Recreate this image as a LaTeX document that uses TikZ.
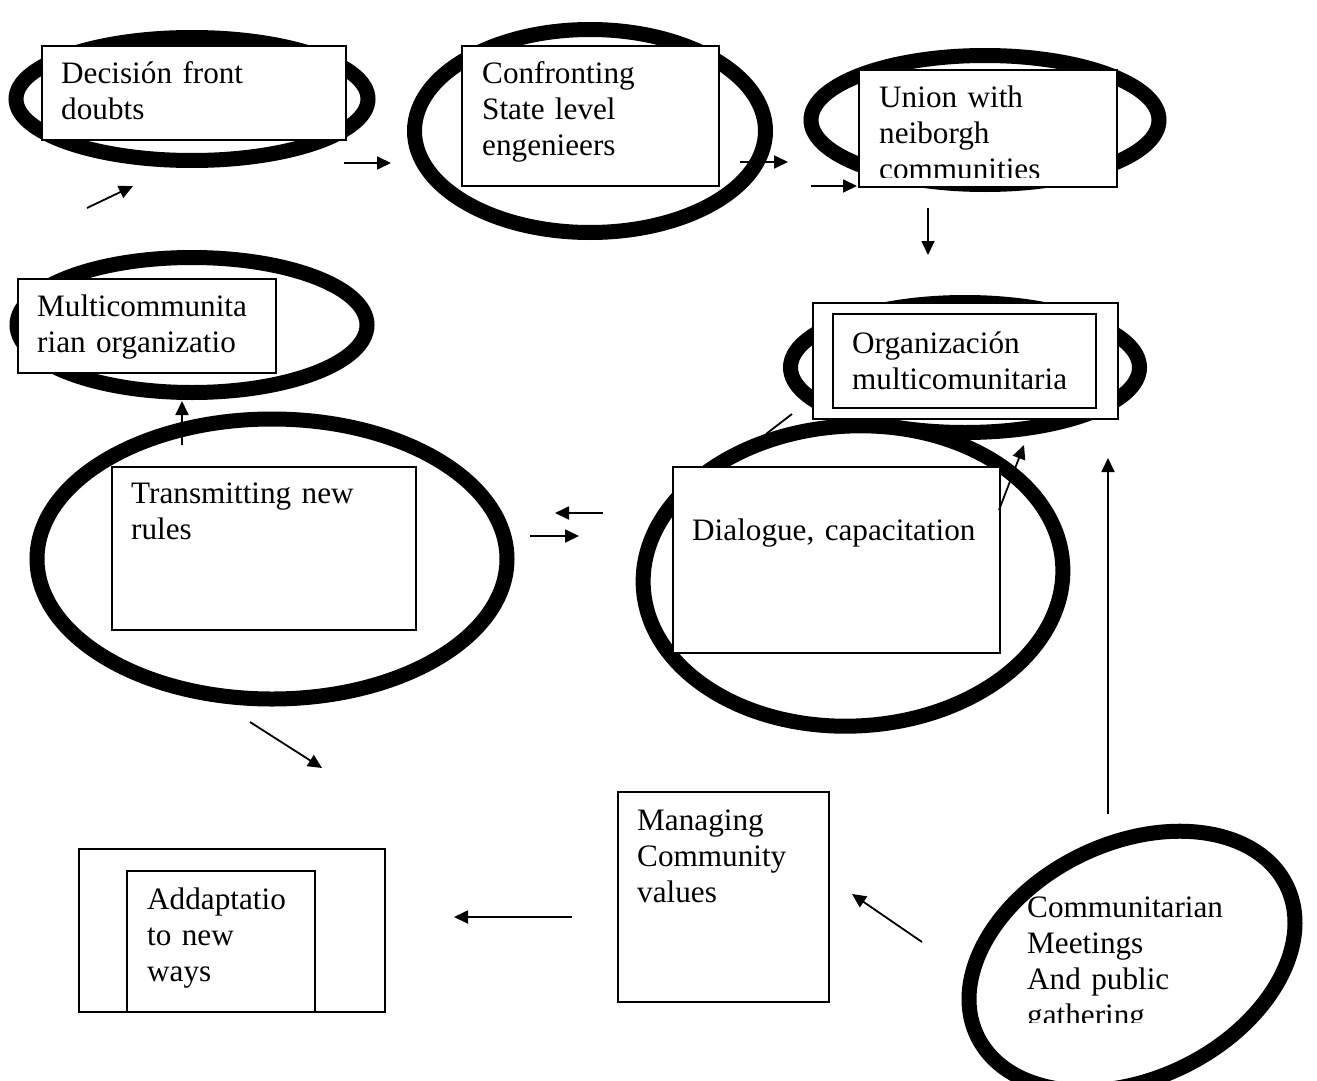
\documentclass[tikz,border=0pt]{standalone}
\usepackage{fontspec}
\setmainfont{Liberation Serif}
\usetikzlibrary{shapes.geometric,arrows.meta}
\begin{document}
\begin{tikzpicture}[x=1pt,y=-1pt,
  ring/.style={draw,ellipse,line width=15pt,inner sep=0pt},
  tbox/.style={draw,fill=white,line width=1.8pt,inner sep=0pt,rectangle,anchor=north west},
  txt/.style={anchor=base west,inner sep=0pt,align=left,text width=300pt,font=\fontsize{31.2}{36}\selectfont},
  arr/.style={line width=1.8pt,-{Triangle[length=14pt,width=13pt]}}]
\fill[white] (0,0) rectangle (1317,1081);
\useasboundingbox (0,0) rectangle (1317,1081);

% small fragment behind the rings
\coordinate (f1) at (766,434);
\coordinate (f2) at (792,414);
\draw[line width=1.8pt] (f1) -- (f2);

% rings
\node[ring,minimum width=352pt,minimum height=123pt] (e1) at (192,99) {};
\node[ring,minimum width=351pt,minimum height=203pt] (e2) at (590,131) {};
\node[ring,minimum width=348pt,minimum height=129pt] (e3) at (985,120) {};
\node[ring,minimum width=350pt,minimum height=135pt] (e4) at (192,325) {};
\node[ring,minimum width=470pt,minimum height=280pt] (e5) at (272,559) {};
\node[ring,minimum width=420pt,minimum height=300pt,rotate=3] (e6) at (853,576) {};
\node[ring,minimum width=349pt,minimum height=130pt] (e7) at (965,367.5) {};
\node[ring,minimum width=344pt,minimum height=235pt,rotate=26] (e8) at (1132,961) {};

% boxes
\node[tbox,minimum width=304pt,minimum height=94pt] (b1) at (41,45) {};
\node[tbox,minimum width=257pt,minimum height=140pt] (b2) at (461,45) {};
\node[tbox,minimum width=258pt,minimum height=117pt] (b3) at (858,69) {};
\node[tbox,minimum width=258pt,minimum height=94pt] (b4) at (17,278) {};
\node[tbox,minimum width=304pt,minimum height=163pt] (b5) at (111,466) {};
\node[tbox,minimum width=327pt,minimum height=186pt] (b6) at (672,466) {};
\node[tbox,minimum width=305pt,minimum height=116pt] (b7o) at (812,302) {};
\node[tbox,minimum width=263pt,minimum height=94pt] (b7i) at (832,313) {};
\node[tbox,minimum width=211pt,minimum height=210pt] (b9) at (617,791) {};
\node[tbox,minimum width=306pt,minimum height=163pt] (b10o) at (78,848) {};
\node[tbox,minimum width=188pt,minimum height=141pt] (b10i) at (126,870) {};

% texts
\node[txt] (t1) at (61,83) {Decisión front\\doubts};
\node[txt] (t2) at (482,83) {Confronting\\State level\\engenieers};
\begin{scope}
\clip (858,69) rectangle (1116,177);
\node[txt] (t3) at (879,107) {Union with\\neiborgh\\communities};
\end{scope}
\node[txt] (t4) at (37,316) {Multicommunita\\rian organizatio};
\node[txt] (t5) at (131,503) {Transmitting new\\rules};
\node[txt] (t6) at (692,540) {Dialogue, capacitation};
\node[txt] (t7) at (852,353) {Organización\\multicomunitaria};
\begin{scope}
\clip (1000,880) rectangle (1300,1022);
\node[txt] (t8) at (1027,917) {Communitarian\\Meetings\\And public\\gathering};
\end{scope}
\node[txt] (t9) at (637,830) {Managing\\Community\\values};
\node[txt] (t10) at (147,909) {Addaptatio\\to new\\ways};

% connectors
\coordinate (a1s) at (87,208);   \coordinate (a1e) at (133,186);
\coordinate (a2s) at (344,163);  \coordinate (a2e) at (391,163);
\coordinate (a3s) at (740,162);  \coordinate (a3e) at (788,162);
\coordinate (a4s) at (811,186);  \coordinate (a4e) at (857,186);
\coordinate (a5s) at (928,208);  \coordinate (a5e) at (928,255);
\coordinate (a6s) at (182,445);  \coordinate (a6e) at (182,401);
\coordinate (a7s) at (603,513);  \coordinate (a7e) at (555,513);
\coordinate (a8s) at (530,536);  \coordinate (a8e) at (579,536);
\coordinate (a9s) at (999,510);  \coordinate (a9e) at (1024,445);
\coordinate (a10s) at (1108,814); \coordinate (a10e) at (1108,458);
\coordinate (a11s) at (922,942); \coordinate (a11e) at (852,894);
\coordinate (a12s) at (572,917); \coordinate (a12e) at (454,917);
\coordinate (a13s) at (250,722); \coordinate (a13e) at (322,768);
\foreach \i in {1,...,13} {\draw[arr] (a\i s) -- (a\i e);}
\end{tikzpicture}
\end{document}
